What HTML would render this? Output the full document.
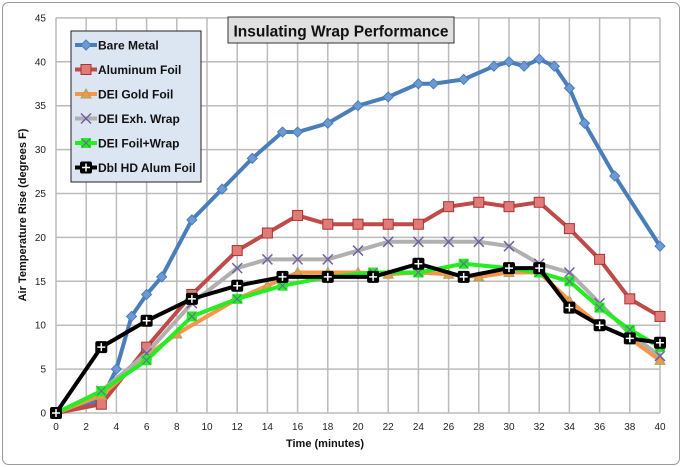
<!DOCTYPE html>
<html><head><meta charset="utf-8"><style>
html,body{margin:0;padding:0;background:#fff;}
svg{display:block;font-family:"Liberation Sans",sans-serif;}
</style></head><body>
<svg id="s" width="682" height="467" viewBox="0 0 682 467" xmlns="http://www.w3.org/2000/svg">
<rect x="2.5" y="2.5" width="677" height="462" rx="6" fill="#fff" stroke="#999" stroke-width="1"/>
<g id="grid"></g>
<g id="series"></g>
<rect x="228" y="17" width="226" height="26" fill="#e0e0e0" stroke="#333" stroke-width="1"/>
<text x="341" y="36.5" text-anchor="middle" font-size="15.5" font-weight="bold" fill="#111">Insulating Wrap Performance</text>
<rect x="71" y="31" width="130" height="151" fill="#dce6f2" stroke="#222" stroke-width="1"/>
<g id="leg"></g>
<text x="325" y="447" text-anchor="middle" font-size="11" font-weight="bold" fill="#111">Time (minutes)</text>
<text transform="translate(26,215) rotate(-90)" text-anchor="middle" font-size="11" font-weight="bold" fill="#111">Air Temperature Rise (degrees F)</text>
</svg>
<script>
var X=function(v){return 56+v*15.1},Y=function(v){return 413-v*8.78};
var g=document.getElementById('grid'),h='';
for(var i=0;i<=20;i++){var x=X(i*2);h+='<line x1="'+x+'" y1="'+Y(45)+'" x2="'+x+'" y2="'+Y(0)+'" stroke="#bbb" stroke-width="1.5"/>';
h+='<text x="'+x+'" y="430" text-anchor="middle" font-size="10" fill="#222">'+(i*2)+'</text>';}
for(var j=0;j<=9;j++){var y=Y(j*5);h+='<line x1="'+X(0)+'" y1="'+y+'" x2="'+X(40)+'" y2="'+y+'" stroke="#bbb" stroke-width="1.5"/>';
h+='<text x="46" y="'+(y+3.5)+'" text-anchor="end" font-size="10" fill="#222">'+(j*5)+'</text>';}
g.innerHTML=h;
var S=[
{c:'#4a7ebb',m:'d',f:'#6d9ad4',d:[[0,0],[3,1.5],[4,5],[5,11],[6,13.5],[7,15.5],[9,22],[11,25.5],[13,29],[15,32],[16,32],[18,33],[20,35],[22,36],[24,37.5],[25,37.5],[27,38],[29,39.5],[30,40],[31,39.5],[32,40.3],[33,39.5],[34,37],[35,33],[37,27],[40,19]]},
{c:'#be4b48',m:'s',f:'#e07b78',d:[[0,0],[3,1],[6,7.5],[9,13.5],[12,18.5],[14,20.5],[16,22.5],[18,21.5],[20,21.5],[22,21.5],[24,21.5],[26,23.5],[28,24],[30,23.5],[32,24],[34,21],[36,17.5],[38,13],[40,11]]},
{c:'#f79646',m:'t',f:'#f79646',d:[[0,0],[3,2],[6,6.5],[8,9],[12,13],[14,14.5],[16,16],[18,16],[20,16],[22,15.8],[24,16],[26,15.8],[28,15.5],[30,16],[32,16],[34,12.8],[36,10],[38,8.5],[40,6]]},
{c:'#b0b0b0',m:'x',f:'#8064a2',d:[[0,0],[3,2.5],[6,6.8],[9,12.5],[12,16.5],[14,17.5],[16,17.5],[18,17.5],[20,18.5],[22,19.5],[24,19.5],[26,19.5],[28,19.5],[30,19],[32,17],[34,16],[36,12.5],[38,9],[40,6.5]]},
{c:'#22ee22',m:'g',f:'#22ee22',d:[[0,0],[3,2.5],[6,6],[9,11],[12,13],[15,14.5],[18,15.5],[21,16],[24,16],[27,17],[30,16.5],[32,16],[34,15],[36,12],[38,9.5],[40,7.5]]},
{c:'#000',m:'p',f:'#000',d:[[0,0],[3,7.5],[6,10.5],[9,13],[12,14.5],[15,15.5],[18,15.5],[21,15.5],[24,17],[27,15.5],[30,16.5],[32,16.5],[34,12],[36,10],[38,8.5],[40,8]]}];
function mk(t,x,y,s){
 if(t.m=='d')return '<polygon points="'+x+','+(y-5)+' '+(x+5)+','+y+' '+x+','+(y+5)+' '+(x-5)+','+y+'" fill="'+t.f+'" stroke="#4a7ebb"/>';
 if(t.m=='s')return '<rect x="'+(x-5)+'" y="'+(y-5)+'" width="10" height="10" fill="'+t.f+'" stroke="#a33"/>';
 if(t.m=='t')return '<polygon points="'+x+','+(y-5)+' '+(x+5)+','+(y+4)+' '+(x-5)+','+(y+4)+'" fill="#f79646" stroke="#9a6"/>';
 if(t.m=='x')return '<path d="M'+(x-5)+' '+(y-5)+'L'+(x+5)+' '+(y+5)+'M'+(x+5)+' '+(y-5)+'L'+(x-5)+' '+(y+5)+'" stroke="#7060a0" stroke-width="1.5"/>';
 if(t.m=='g')return '<rect x="'+(x-5)+'" y="'+(y-5)+'" width="10" height="10" fill="#22ee22"/><path d="M'+(x-4)+' '+(y-4)+'L'+(x+4)+' '+(y+4)+'M'+(x+4)+' '+(y-4)+'L'+(x-4)+' '+(y+4)+'" stroke="#7060a0" stroke-width="1"/>';
 return '<rect x="'+(x-6)+'" y="'+(y-6)+'" width="12" height="12" rx="2" fill="#000"/><path d="M'+x+' '+(y-4)+'V'+(y+4)+'M'+(x-4)+' '+y+'H'+(x+4)+'" stroke="#fff" stroke-width="1.5"/>';
}
var sh='',lh='',names=['Bare Metal','Aluminum Foil','DEI Gold Foil','DEI Exh. Wrap','DEI Foil+Wrap','Dbl HD Alum Foil'];
S.forEach(function(t,k){var p=t.d.map(function(q){return X(q[0])+','+Y(q[1])}).join(' ');
 sh+='<polyline points="'+p+'" fill="none" stroke="'+t.c+'" stroke-width="4" stroke-linejoin="round"/>';
 t.d.forEach(function(q){sh+=mk(t,X(q[0]),Y(q[1]))});
 var ly=45+k*24.5;lh+='<line x1="75" y1="'+ly+'" x2="97" y2="'+ly+'" stroke="'+t.c+'" stroke-width="4"/>'+mk(t,86,ly)+'<text x="98" y="'+(ly+4.5)+'" font-size="12" font-weight="bold" fill="#111">'+names[k]+'</text>';});
document.getElementById('series').innerHTML=sh;document.getElementById('leg').innerHTML=lh;
</script>
</body></html>
